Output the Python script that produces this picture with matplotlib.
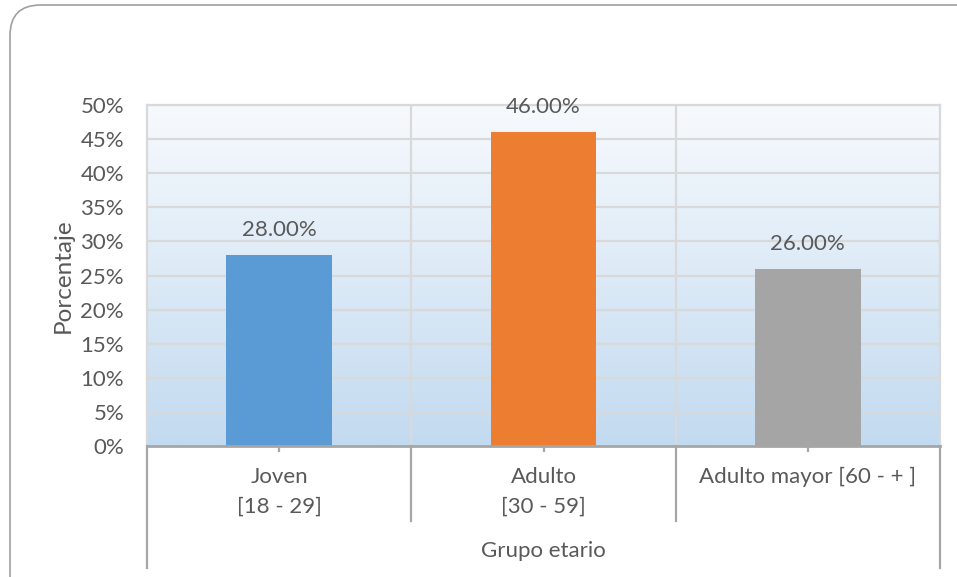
import numpy as np
import matplotlib
matplotlib.use("Agg")
import matplotlib.pyplot as plt
from matplotlib.patches import FancyBboxPatch
import matplotlib.transforms as mtransforms

plt.rcParams['font.family'] = ['Lato', 'DejaVu Sans']

# Data
categories = [["Joven", "[18 - 29]"], ["Adulto", "[30 - 59]"], ["Adulto mayor [60 - + ]"]]
values = [28.0, 46.0, 26.0]
bar_colors = ["#5B9BD5", "#ED7D31", "#A5A5A5"]
y_ticks = [0, 5, 10, 15, 20, 25, 30, 35, 40, 45, 50]
x_title = "Grupo etario"
y_title = "Porcentaje"

text_color = "#595959"
fs = 16
W, H = 957, 577
fig = plt.figure(figsize=(W / 100, H / 100), dpi=100)

# rounded outer frame (runs off the right and bottom edges)
frame = FancyBboxPatch((10 / W, -30 / H), 990 / W, (H - 5 + 30) / H,
                       boxstyle="round,pad=0,rounding_size=0.032",
                       transform=fig.transFigure, facecolor="white",
                       edgecolor="#A0A0A0", linewidth=1.2,
                       mutation_aspect=W / H, zorder=-5)
fig.patches.append(frame)

left, right, top, bottom = 147, 940, 105, 446
ax = fig.add_axes([left / W, (H - bottom) / H, (right - left) / W, (bottom - top) / H])
ax.set_zorder(2)
ax.set_xlim(-0.5, 2.5)
ax.set_ylim(0, 50)

# gradient background
grad = np.linspace(0, 1, 256).reshape(-1, 1)
top_c = np.array([247, 250, 253]) / 255
bot_c = np.array([194, 218, 240]) / 255
img = top_c[None, None, :] * (1 - grad[:, :, None]) + bot_c[None, None, :] * grad[:, :, None]
ax.imshow(img, extent=[-0.5, 2.5, 0, 50], aspect='auto', origin='upper', zorder=0)

# grid
for y in y_ticks[1:]:
    ax.axhline(y, color="#D9D9D9", linewidth=1.6, zorder=1)
for x in [0.5, 1.5]:
    ax.axvline(x, color="#D9D9D9", linewidth=1.6, zorder=1)

x = np.arange(len(values))
ax.bar(x, values, width=0.4, color=bar_colors, zorder=2)
for xi, v in zip(x, values):
    ax.annotate(f"{v:.2f}%", (xi, v), xytext=(0, 18), textcoords='offset points',
                ha='center', va='center', fontsize=fs, color=text_color, zorder=3)

for s in ['top', 'left', 'right']:
    ax.spines[s].set_color("#D9D9D9")
    ax.spines[s].set_linewidth(1.6)
ax.spines['bottom'].set_color("#A6A6A6")
ax.spines['bottom'].set_linewidth(2)

ax.set_yticks(y_ticks)
ax.set_yticklabels([f"{t}%" for t in y_ticks], fontsize=fs, color=text_color)
ax.tick_params(axis='y', length=0, pad=16.5)
ax.set_xticks([])

ax.set_ylabel(y_title, fontsize=17.5, color=text_color, labelpad=5)

# category axis table-like lines below the plot
trans = mtransforms.blended_transform_factory(ax.transData, ax.transAxes)
ph = bottom - top
for xs, depth in [(-0.5, 122), (0.5, 75), (1.5, 75), (2.5, 122)]:
    ax.plot([xs, xs], [0, -depth / ph], transform=trans, color="#A6A6A6",
            linewidth=1.6, clip_on=False, zorder=3)
for xi in x:
    ax.plot([xi, xi], [0, -5 / ph], transform=trans, color="#A6A6A6",
            linewidth=1.6, clip_on=False, zorder=3)
for xi, lines in zip(x, categories):
    for k, line in enumerate(lines):
        ax.text(xi, -(31 + 30 * k) / ph, line, transform=trans, ha='center', va='center',
                fontsize=fs, color=text_color)
ax.text(1, -105 / ph, x_title, transform=trans, ha='center', va='center',
        fontsize=fs, color=text_color)

fig.savefig("out.png", dpi=100)
